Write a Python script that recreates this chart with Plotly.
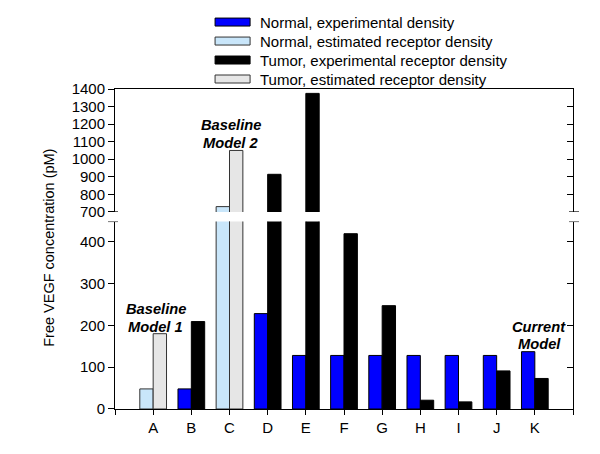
import plotly.graph_objects as go

categories = ["A", "B", "C", "D", "E", "F", "G", "H", "I", "J", "K"]
normal_exp = [None, 48, None, 228, 128, 128, 128, 128, 128, 128, 137]
normal_est = [48, None, 730, None, None, None, None, None, None, None, None]
tumor_exp = [None, 209, None, 914, 1375, 419, 247, 21, 17, 91, 73]
tumor_est = [180, None, 1050, None, None, None, None, None, None, None, None]

series = [
    ("Normal, experimental density", normal_exp, "#0000FF", "#000000", -0.35),
    ("Normal, estimated receptor density", normal_est, "#C9E6FA", "#333333", -0.35),
    ("Tumor, experimental receptor density", tumor_exp, "#000000", "#000000", 0.0),
    ("Tumor, estimated receptor density", tumor_est, "#E6E6E6", "#333333", 0.0),
]

xpos = list(range(len(categories)))
FONT = "Arial, Liberation Sans, sans-serif"

fig = go.Figure()
for name, vals, fill, edge, off in series:
    for xa, ya in (("x", "y"), ("x2", "y2")):
        fig.add_trace(go.Bar(
            x=xpos, y=vals, name=name, xaxis=xa, yaxis=ya,
            width=0.35, offset=off,
            marker=dict(color=fill, line=dict(color=edge, width=1)),
            showlegend=False, hoverinfo="skip",
        ))

# dummy traces so the right-hand mirror axes are drawn
fig.add_trace(go.Scatter(x=[None], y=[None], xaxis="x", yaxis="y3", showlegend=False, hoverinfo="skip"))
fig.add_trace(go.Scatter(x=[None], y=[None], xaxis="x2", yaxis="y4", showlegend=False, hoverinfo="skip"))

low_range = [0, 448]
up_range = [700, 1400]
low_dom = [0, 0.5857]
up_dom = [0.616, 1]

xt = [-1] + xpos + [len(categories)]
xl = [""] + categories + [""]

fig.update_layout(
    width=592, height=446,
    margin=dict(l=107, r=27.3, t=81, b=44.7),
    paper_bgcolor="white", plot_bgcolor="white",
    barmode="overlay",
    font=dict(family=FONT, size=15, color="black"),
    xaxis=dict(range=[-1, len(categories)], domain=[0, 1], anchor="y",
               tickvals=xt, ticktext=xl, ticks="outside", ticklen=5, tickwidth=1,
               tickcolor="black", showline=True, linecolor="black", linewidth=1,
               showgrid=False, zeroline=False, tickfont=dict(size=15)),
    xaxis2=dict(range=[-1, len(categories)], domain=[0, 1], anchor="y2", side="top",
                showticklabels=False, ticks="", showline=True, linecolor="black",
                linewidth=1, showgrid=False, zeroline=False),
    yaxis=dict(range=low_range, domain=low_dom, anchor="x",
               tickvals=[0, 100, 200, 300, 400], ticks="outside", ticklen=6,
               tickcolor="black", showline=True, linecolor="black", linewidth=1,
               showgrid=False, zeroline=False, tickfont=dict(size=15)),
    yaxis2=dict(range=up_range, domain=up_dom, anchor="x2",
                tickvals=list(range(700, 1401, 100)), ticks="outside", ticklen=6,
                tickcolor="black", showline=True, linecolor="black", linewidth=1,
                showgrid=False, zeroline=False, tickfont=dict(size=15)),
    yaxis3=dict(range=low_range, overlaying="y", side="right", anchor="x",
                tickvals=[0, 100, 200, 300, 400], ticks="inside", ticklen=6,
                tickcolor="black", showticklabels=False, showline=True,
                linecolor="black", linewidth=1, showgrid=False, zeroline=False),
    yaxis4=dict(range=up_range, overlaying="y2", side="right", anchor="x2",
                tickvals=list(range(700, 1401, 100)), ticks="inside", ticklen=6,
                tickcolor="black", showticklabels=False, showline=True,
                linecolor="black", linewidth=1, showgrid=False, zeroline=False),
)

shapes = []
# axis break marks
for xa in (0, 1):
    for yref, yv in (("y2", up_range[0]), ("y", low_range[1])):
        shapes.append(dict(type="line", xref="paper", xsizemode="pixel", xanchor=xa,
                           x0=-7 if xa == 0 else -4, x1=3 if xa == 0 else 6,
                           yref=yref, y0=yv, y1=yv,
                           line=dict(color="black", width=1)))

# manual legend (wide swatches as in the original); pixel positions relative to page
leg_rows_px = [22, 41, 60, 79]
PW, PH, L, B = 457.7, 320.3, 115, 409.3
for (name, vals, fill, edge, off), py in zip(series, leg_rows_px):
    shapes.append(dict(type="rect", xref="paper", yref="paper",
                       x0=(215 - L) / PW, x1=(250 - L) / PW,
                       y0=(B - (py + 4)) / PH, y1=(B - (py - 4)) / PH,
                       fillcolor=fill, line=dict(color=edge, width=1)))
fig.update_layout(shapes=shapes)

annotations = []
for (name, *_), py in zip(series, leg_rows_px):
    annotations.append(dict(text=name, xref="paper", yref="paper",
                            x=(258 - L) / PW, y=(B - py) / PH, xanchor="left",
                            yanchor="middle", showarrow=False, font=dict(size=15)))

annotations.append(dict(text="Free VEGF concentration (pM)", xref="paper", yref="paper",
                        x=(49 - L) / PW, y=(B - 248) / PH, textangle=-90,
                        xanchor="center", yanchor="middle", showarrow=False,
                        font=dict(size=14.5)))

labels = [
    ("Baseline", 0.07, 240, "x", "y"),
    ("Model 1", 0.07, 197, "x", "y"),
    ("Baseline", 2.04, 1193, "x2", "y2"),
    ("Model 2", 2.04, 1094, "x2", "y2"),
    ("Current", 10.11, 195, "x", "y"),
    ("Model", 10.11, 156, "x", "y"),
]
for txt, xv, yv, xr, yr in labels:
    annotations.append(dict(text="<b><i>" + txt + "</i></b>", x=xv, y=yv, xref=xr, yref=yr,
                            showarrow=False, xanchor="center", yanchor="middle",
                            font=dict(size=14.7), align="center"))
fig.update_layout(annotations=annotations)

fig.write_html("out.html")
